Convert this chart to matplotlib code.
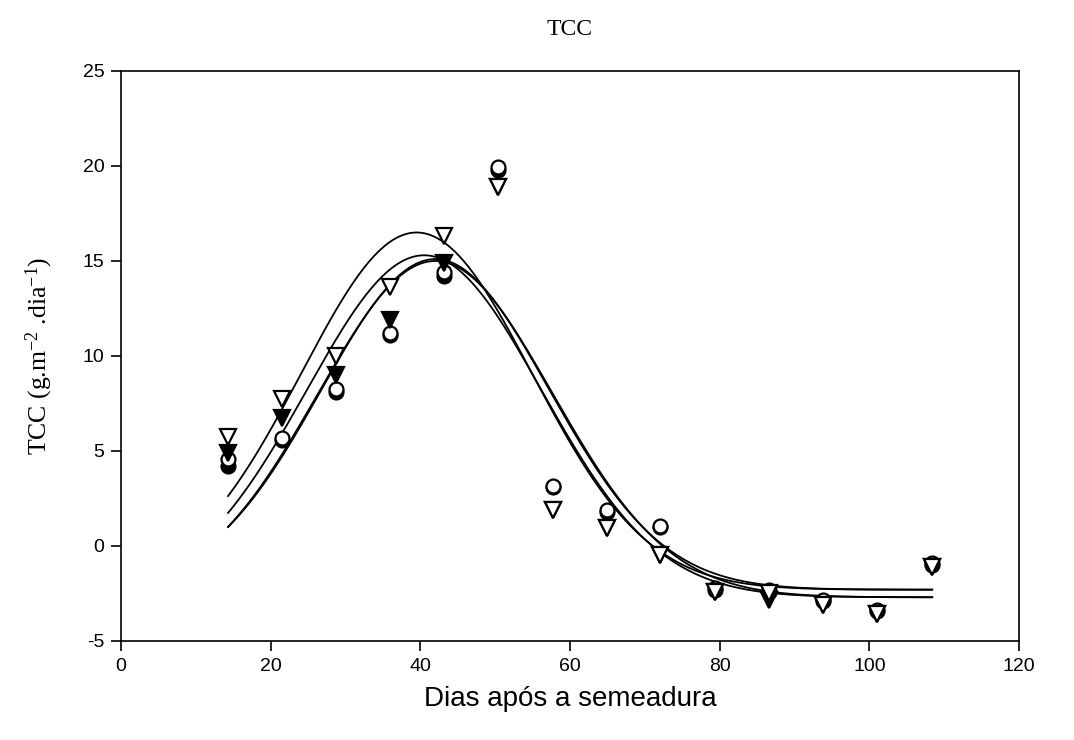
import matplotlib
matplotlib.use("Agg")
import matplotlib.pyplot as plt
import numpy as np

plt.rcParams['axes.unicode_minus'] = False
plt.rcParams['mathtext.fontset'] = 'custom'
plt.rcParams['mathtext.rm'] = 'Liberation Serif'
plt.rcParams['mathtext.it'] = 'Liberation Serif:italic'
plt.rcParams['mathtext.bf'] = 'Liberation Serif:bold'

# dias apos a semeadura (posicao dos pontos lida no eixo)
dias = [14.3, 21.5, 28.7, 35.9, 43.2, 50.4, 57.7, 64.9, 72.0, 79.4, 86.6, 93.8, 101.0, 108.4]

# TCC por tratamento
circ_cheio = [4.2, 5.6, 8.1, 11.1, 14.2, 19.8, 3.1, 1.8, 1.0, -2.3, -2.4, -2.9, -3.4, -1.0]
circ_vazio = [4.6, 5.7, 8.25, 11.2, 14.4, 19.95, 3.15, 1.9, 1.05, -2.2, -2.3, -2.85, -3.35, -0.9]
tri_cheio = [4.9, 6.75, 9.0, 11.9, 14.9, 18.9, 1.9, 0.95, -0.5, -2.4, -2.85, -3.1, -3.6, -1.1]
tri_vazio = [5.75, 7.75, 10.0, 13.65, 16.3, 18.9, 1.9, 0.95, -0.5, -2.4, -2.5, -3.1, -3.6, -1.1]

# curvas ajustadas (gaussiana de 4 parametros): y0, a, x0, b
ajustes = [
    [-2.3, 18.8, 39.5, 15.4],
    [-2.7, 18.0, 40.5, 15.66],
    [-2.3, 17.4, 42.0, 15.19],
    [-2.7, 17.7, 42.0, 15.66],
]

fig = plt.figure(figsize=(10.74, 7.40), dpi=100)
ax = fig.add_axes([0.1127, 0.1338, 0.8361, 0.7703])

xx = np.linspace(dias[0], dias[-1], 400)
for y0, a, x0, b in ajustes:
    ax.plot(xx, y0 + a*np.exp(-0.5*((xx - x0)/b)**2), color='black', lw=1.3, zorder=2)

ax.plot(dias, circ_cheio, 'o', ms=10, mfc='black', mec='black', mew=1.6, zorder=3)
ax.plot(dias, circ_vazio, 'o', ms=10, mfc='white', mec='black', mew=1.6, zorder=4)
ax.plot(dias, tri_cheio, 'v', ms=11, mfc='black', mec='black', mew=1.6, zorder=5)
ax.plot(dias, tri_vazio, 'v', ms=11, mfc='white', mec='black', mew=1.6, zorder=6)

ax.set_xlim(0, 120)
ax.set_ylim(-5, 25)
ax.set_xticks(range(0, 121, 20))
ax.set_yticks(range(-5, 26, 5))
ax.tick_params(direction='out', length=7, width=1.2, labelsize=14, pad=5,
               top=False, right=False)
for lab in ax.get_xticklabels() + ax.get_yticklabels():
    lab.set_family('Liberation Sans')
for s in ax.spines.values():
    s.set_linewidth(1.2)

ax.set_xlabel('Dias após a semeadura', family='Liberation Sans', fontsize=20, labelpad=8)
ax.set_ylabel(r'TCC (g.m$^{-2}$ .dia$^{-1}$)', family='Liberation Serif', fontsize=18.5, labelpad=20)
ax.set_title('TCC', family='Liberation Serif', fontsize=17, pad=26)

fig.savefig('out.png', dpi=100)
